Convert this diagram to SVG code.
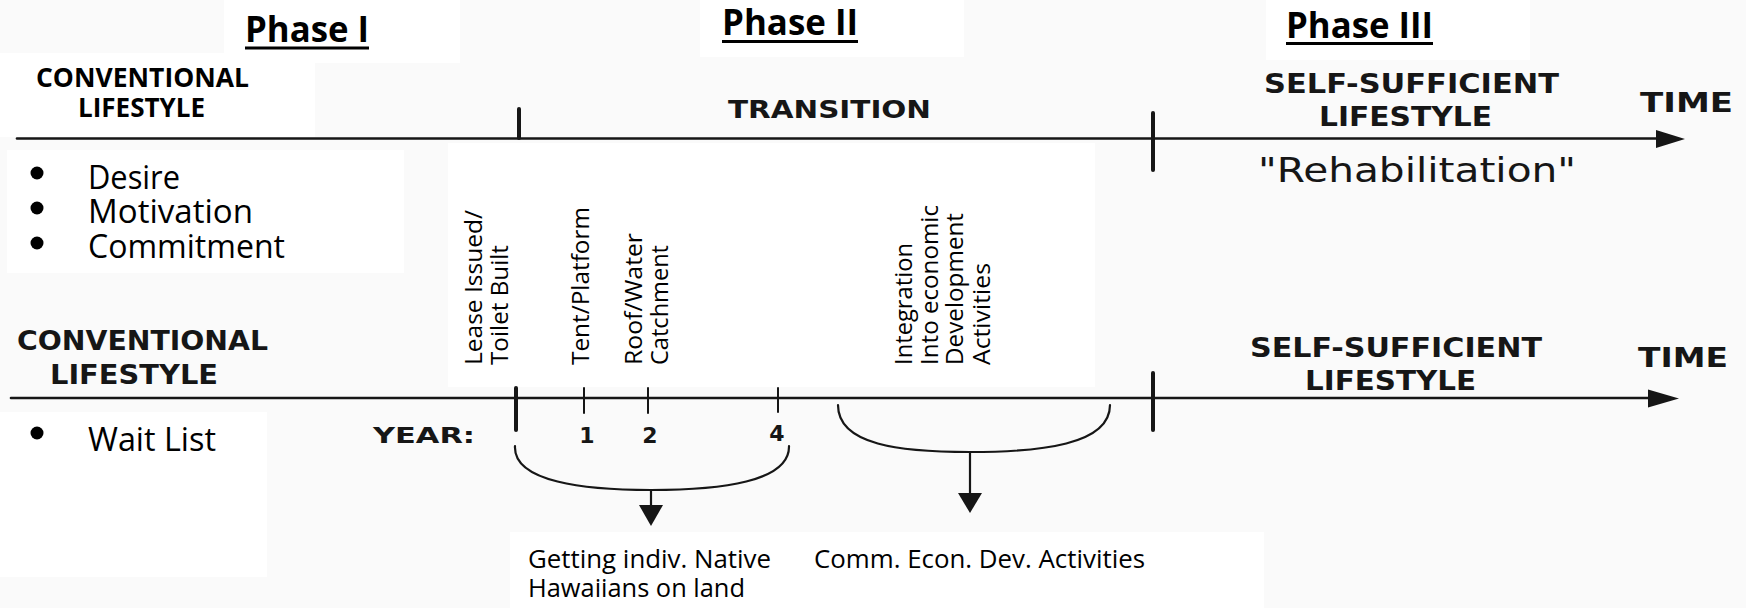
<svg xmlns="http://www.w3.org/2000/svg" width="1746" height="608" viewBox="0 0 1746 608">
<style>
.cal{font-family:"Open Sans","Noto Sans",sans-serif;fill:#000}
.b{font-weight:700}
.scan{font-family:"DejaVu Sans","Liberation Sans",sans-serif;font-weight:700;fill:#161616}
.reg{font-weight:400}
.ln{stroke:#161616;fill:none;stroke-linecap:round}
.ax{stroke-width:2.6}
.tk{stroke-width:4}
.tn{stroke-width:2}
.br{stroke-width:2.2}
.hd{fill:#161616;stroke:none}
.ul{fill:#000}
</style>
<rect x="0" y="0" width="1746" height="608" fill="#fafafa"/>
<g id="paper" fill="#ffffff">
<rect x="224" y="0" width="236" height="63"/>
<rect x="700" y="0" width="264" height="57"/>
<rect x="1266" y="0" width="264" height="60"/>
<rect x="0" y="53" width="315" height="84"/>
<rect x="7" y="150" width="397" height="123"/>
<rect x="448" y="143" width="647" height="244"/>
<rect x="0" y="412" width="267" height="165"/>
<rect x="510" y="532" width="754" height="76"/>
</g>

<g id="phase1">
<text class="cal b" x="245" y="42" font-size="36" textLength="124" lengthAdjust="spacingAndGlyphs">Phase I</text>
<rect class="ul" x="245" y="46.5" width="124" height="3"/>
</g>
<g id="phase2">
<text class="cal b" x="722" y="35" font-size="36" textLength="136" lengthAdjust="spacingAndGlyphs">Phase II</text>
<rect class="ul" x="722" y="40" width="136" height="3"/>
</g>
<g id="phase3">
<text class="cal b" x="1286" y="38" font-size="36" textLength="147" lengthAdjust="spacingAndGlyphs">Phase III</text>
<rect class="ul" x="1286" y="42" width="147" height="3"/>
</g>

<g id="top-conventional">
<text class="cal b" x="36" y="87" font-size="26.5" textLength="213" lengthAdjust="spacingAndGlyphs">CONVENTIONAL</text>
<text class="cal b" x="78" y="117" font-size="26.5" textLength="127" lengthAdjust="spacingAndGlyphs">LIFESTYLE</text>
</g>
<g id="top-transition">
<text class="scan" x="728" y="118" font-size="25" textLength="203" lengthAdjust="spacingAndGlyphs">TRANSITION</text>
</g>
<g id="top-selfsufficient">
<text class="scan" x="1264" y="93" font-size="27" textLength="295" lengthAdjust="spacingAndGlyphs">SELF-SUFFICIENT</text>
<text class="scan" x="1319" y="126" font-size="26" textLength="173" lengthAdjust="spacingAndGlyphs">LIFESTYLE</text>
<text class="scan reg" x="1258" y="182" font-size="33" textLength="318" lengthAdjust="spacingAndGlyphs">"Rehabilitation"</text>
</g>
<g id="top-time">
<text class="scan" x="1640" y="112" font-size="27" textLength="93" lengthAdjust="spacingAndGlyphs">TIME</text>
</g>

<g id="phase1-bullets">
<circle cx="37" cy="173" r="6.5"/>
<circle cx="37" cy="208" r="6.5"/>
<circle cx="37" cy="243" r="6.5"/>
<text class="cal" x="88" y="189" font-size="32" textLength="92" lengthAdjust="spacingAndGlyphs">Desire</text>
<text class="cal" x="88" y="223" font-size="32" textLength="165" lengthAdjust="spacingAndGlyphs">Motivation</text>
<text class="cal" x="88" y="258" font-size="32" textLength="197" lengthAdjust="spacingAndGlyphs">Commitment</text>
</g>

<g id="milestone-lease">
<text class="cal" font-size="24.5" transform="translate(482,365) rotate(-90)" textLength="155" lengthAdjust="spacingAndGlyphs">Lease Issued/</text>
<text class="cal" font-size="24.5" transform="translate(508,365) rotate(-90)" textLength="120" lengthAdjust="spacingAndGlyphs">Toilet Built</text>
</g>
<g id="milestone-tent">
<text class="cal" font-size="24.5" transform="translate(589,365) rotate(-90)" textLength="158" lengthAdjust="spacingAndGlyphs">Tent/Platform</text>
</g>
<g id="milestone-roof">
<text class="cal" font-size="24.5" transform="translate(642,365) rotate(-90)" textLength="132" lengthAdjust="spacingAndGlyphs">Roof/Water</text>
<text class="cal" font-size="24.5" transform="translate(668,365) rotate(-90)" textLength="120" lengthAdjust="spacingAndGlyphs">Catchment</text>
</g>
<g id="milestone-integration">
<text class="cal" font-size="24.5" transform="translate(912,365) rotate(-90)" textLength="122" lengthAdjust="spacingAndGlyphs">Integration</text>
<text class="cal" font-size="24.5" transform="translate(938,365) rotate(-90)" textLength="160" lengthAdjust="spacingAndGlyphs">Into economic</text>
<text class="cal" font-size="24.5" transform="translate(963,365) rotate(-90)" textLength="152" lengthAdjust="spacingAndGlyphs">Development</text>
<text class="cal" font-size="24.5" transform="translate(990,365) rotate(-90)" textLength="102" lengthAdjust="spacingAndGlyphs">Activities</text>
</g>

<g id="low-conventional">
<text class="scan" x="17" y="350" font-size="27" textLength="251" lengthAdjust="spacingAndGlyphs">CONVENTIONAL</text>
<text class="scan" x="50" y="384" font-size="27" textLength="168" lengthAdjust="spacingAndGlyphs">LIFESTYLE</text>
</g>
<g id="low-selfsufficient">
<text class="scan" x="1250" y="357" font-size="27" textLength="292" lengthAdjust="spacingAndGlyphs">SELF-SUFFICIENT</text>
<text class="scan" x="1305" y="390" font-size="26" textLength="171" lengthAdjust="spacingAndGlyphs">LIFESTYLE</text>
</g>
<g id="low-time">
<text class="scan" x="1638" y="367" font-size="27" textLength="90" lengthAdjust="spacingAndGlyphs">TIME</text>
</g>
<g id="wait-list">
<circle cx="37" cy="433" r="6.5"/>
<text class="cal" x="88" y="451" font-size="32" textLength="128" lengthAdjust="spacingAndGlyphs">Wait List</text>
</g>
<g id="year-scale">
<text class="scan" x="373" y="443" font-size="22" textLength="102" lengthAdjust="spacingAndGlyphs">YEAR:</text>
<text class="scan" x="587" y="443" font-size="22" text-anchor="middle">1</text>
<text class="scan" x="650" y="443" font-size="22" text-anchor="middle">2</text>
<text class="scan" x="777" y="441" font-size="22" text-anchor="middle">4</text>
</g>
<g id="outcome-individual">
<text class="cal" x="528" y="568" font-size="26" textLength="243" lengthAdjust="spacingAndGlyphs">Getting indiv. Native</text>
<text class="cal" x="528" y="597" font-size="26" textLength="217" lengthAdjust="spacingAndGlyphs">Hawaiians on land</text>
</g>
<g id="outcome-community">
<text class="cal" x="814" y="568" font-size="26" textLength="331" lengthAdjust="spacingAndGlyphs">Comm. Econ. Dev. Activities</text>
</g>

<g id="connectors">
<line class="ln ax" x1="17" y1="138.5" x2="1660" y2="138.5"/>
<polygon class="hd" points="1656,130 1685,139 1656,148"/>
<line class="ln tk" x1="519" y1="109" x2="519" y2="138"/>
<line class="ln tk" x1="1153" y1="113" x2="1153" y2="170"/>

<line class="ln ax" x1="11" y1="398" x2="1652" y2="398"/>
<polygon class="hd" points="1648,389.5 1679,398.5 1648,407.5"/>
<line class="ln tk" x1="516" y1="388" x2="516" y2="430"/>
<line class="ln tn" x1="584" y1="388" x2="584" y2="413"/>
<line class="ln tn" x1="648" y1="388" x2="648" y2="413"/>
<line class="ln tn" x1="778" y1="388" x2="778" y2="412"/>
<line class="ln tk" x1="1153" y1="373" x2="1153" y2="430"/>

<path class="ln br" d="M515,446 C513,482 585,490 651,490 C720,490 790,482 789,446"/>
<line class="ln br" x1="651" y1="490" x2="651" y2="508"/>
<polygon class="hd" points="639,505 663,505 651,526"/>

<path class="ln br" d="M838,405 C838,445 900,452 970,452 C1040,452 1110,445 1110,405"/>
<line class="ln br" x1="970" y1="452" x2="970" y2="496"/>
<polygon class="hd" points="958,493 982,493 970,513"/>
</g>
</svg>
